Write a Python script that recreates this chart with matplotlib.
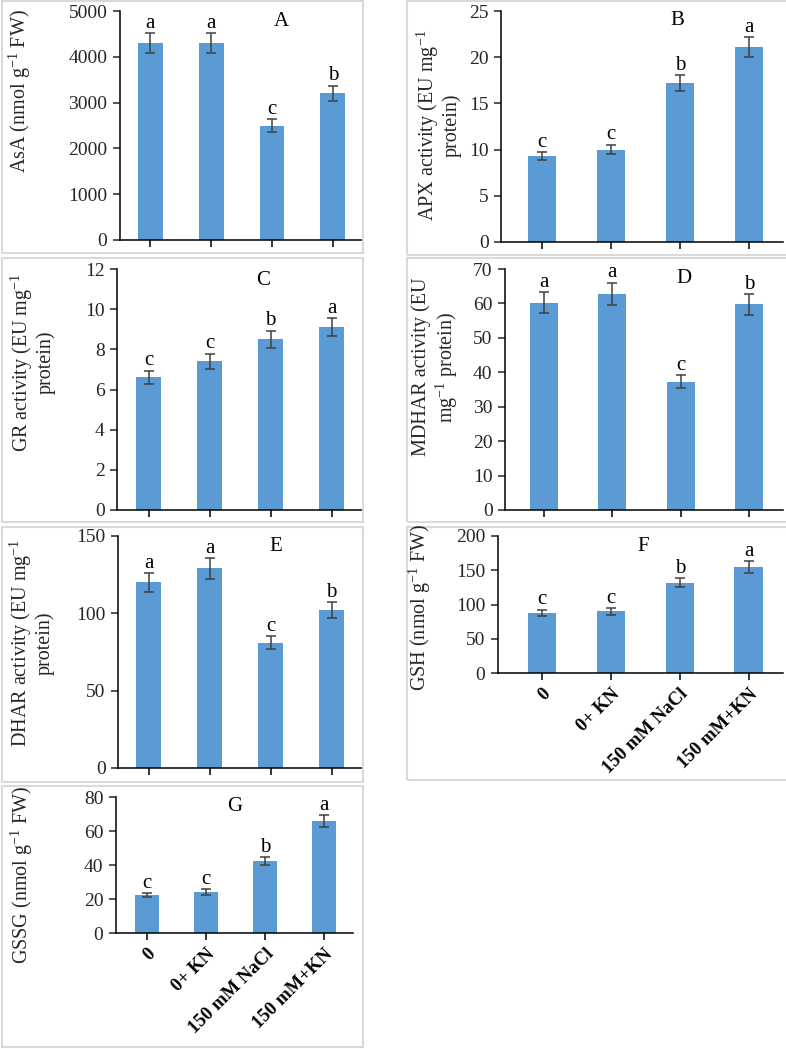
import numpy as np
import matplotlib
matplotlib.use('Agg')
import matplotlib.pyplot as plt
from matplotlib.patches import Rectangle

plt.rcParams['font.family'] = ['Liberation Serif', 'DejaVu Serif']
plt.rcParams['mathtext.fontset'] = 'custom'
plt.rcParams['mathtext.rm'] = 'Liberation Serif'

categories = ['0', '0+ KN', '150 mM NaCl', '150 mM+KN']

asa = [4300, 4300, 2500, 3200]
asa_err = [210, 210, 135, 170]
asa_letters = ['a', 'a', 'c', 'b']

apx = [9.3, 10.0, 17.2, 21.1]
apx_err = [0.42, 0.52, 0.82, 1.05]
apx_letters = ['c', 'c', 'b', 'a']

gr = [6.6, 7.4, 8.5, 9.1]
gr_err = [0.33, 0.39, 0.43, 0.46]
gr_letters = ['c', 'c', 'b', 'a']

mdhar = [60.2, 62.8, 37.2, 59.7]
mdhar_err = [3.0, 3.2, 1.9, 3.0]
mdhar_letters = ['a', 'a', 'c', 'b']

dhar = [120, 129, 81, 102]
dhar_err = [5.9, 6.6, 4.1, 5.2]
dhar_letters = ['a', 'a', 'c', 'b']

gsh = [88, 90, 132, 155]
gsh_err = [4.4, 4.9, 6.8, 8.5]
gsh_letters = ['c', 'c', 'b', 'a']

gssg = [22.3, 24.1, 42.2, 65.8]
gssg_err = [1.2, 1.5, 2.3, 3.6]
gssg_letters = ['c', 'c', 'b', 'a']

W, H = 786, 1049
BAR = '#5B9BD5'
ERR = '#404040'

fig = plt.figure(figsize=(W / 100, H / 100), dpi=100)


def px_rect(left, top, right, bottom):
    # pixel box -> figure fraction [l, b, w, h]
    return [left / W, 1 - bottom / H, (right - left) / W, (bottom - top) / H]


# light grey frames round each panel
frames = [(2, 1, 363, 253), (407, 1, 790, 255),
          (2, 258, 363, 522), (407, 258, 790, 522),
          (2, 527, 363, 782), (407, 527, 790, 780),
          (2, 786, 363, 1047)]
for l, t, r, b in frames:
    fig.add_artist(Rectangle((l / W, 1 - b / H), (r - l) / W, (b - t) / H,
                             transform=fig.transFigure, fill=False,
                             edgecolor='#D9D9D9', lw=1.5))


def draw_panel(box, xlim, values, errs, letters, ymax, ystep, tag, tag_xy,
               ylabel, ylabel_xy, show_x=False):
    ax = fig.add_axes(px_rect(*box))
    x = np.arange(len(categories))
    ax.bar(x, values, width=0.41, color=BAR, zorder=2)
    ax.errorbar(x, values, yerr=errs, fmt='none', ecolor=ERR, elinewidth=1.1,
                capsize=3.5, capthick=1.1, zorder=3)
    for xi, v, e, s in zip(x, values, errs, letters):
        ax.annotate(s, (xi, v + e), xytext=(0, 0.3), textcoords='offset points',
                    ha='center', va='bottom', fontsize=15)
    ax.text(tag_xy[0], tag_xy[1], tag, ha='center', va='center', fontsize=15)
    ax.set_xlim(*xlim)
    ax.set_ylim(0, ymax)
    ax.set_yticks(np.arange(0, ymax + ystep / 2, ystep))
    ax.set_xticks(x)
    if show_x:
        ax.set_xticklabels(categories, rotation=45, ha='right',
                           rotation_mode='anchor', fontsize=13.5, fontweight='bold')
    else:
        ax.set_xticklabels([])
    for side in ['top', 'right']:
        ax.spines[side].set_visible(False)
    for side in ['left', 'bottom']:
        ax.spines[side].set_linewidth(1.1)
    ax.tick_params(axis='y', direction='out', length=5, width=1.1,
                   labelsize=14, pad=4, colors='#262626')
    ax.tick_params(axis='x', direction='out', length=5, width=1.1, pad=4)
    fig.text(ylabel_xy[0] / W, 1 - ylabel_xy[1] / H, ylabel, rotation=90,
             ha='center', va='center', fontsize=14.5, multialignment='center',
             color='#262626', linespacing=1.1)
    return ax


draw_panel((120, 11, 362, 240), (-0.5, 3.48), asa, asa_err, asa_letters,
           5000, 1000, 'A', (2.16, 4770),
           'AsA (nmol g$^{-1}$ FW)', (20, 91))
draw_panel((501, 11, 783, 242), (-0.6, 3.5), apx, apx_err, apx_letters,
           25, 5, 'B', (1.97, 24.0),
           'APX activity (EU mg$^{-1}$\nprotein)', (438, 125))
draw_panel((117, 269, 362, 510), (-0.52, 3.5), gr, gr_err, gr_letters,
           12, 2, 'C', (1.87, 11.45),
           'GR activity (EU mg$^{-1}$\nprotein)', (32, 362))
draw_panel((505, 269, 783, 510), (-0.57, 3.5), mdhar, mdhar_err, mdhar_letters,
           70, 10, 'D', (2.05, 67.3),
           'MDHAR activity (EU\nmg$^{-1}$ protein)', (436, 367))
draw_panel((118, 536, 362, 768), (-0.5, 3.5), dhar, dhar_err, dhar_letters,
           150, 50, 'E', (2.09, 143),
           'DHAR activity (EU mg$^{-1}$\nprotein)', (31, 643))
draw_panel((498, 536, 783, 673), (-0.64, 3.5), gsh, gsh_err, gsh_letters,
           200, 50, 'F', (1.47, 184),
           'GSH (nmol g$^{-1}$ FW)', (420, 607), show_x=True)
draw_panel((116, 797, 353, 933), (-0.52, 3.49), gssg, gssg_err, gssg_letters,
           80, 20, 'G', (1.49, 74.3),
           'GSSG (nmol g$^{-1}$ FW)', (22, 875), show_x=True)

fig.savefig('out.png', dpi=100)
